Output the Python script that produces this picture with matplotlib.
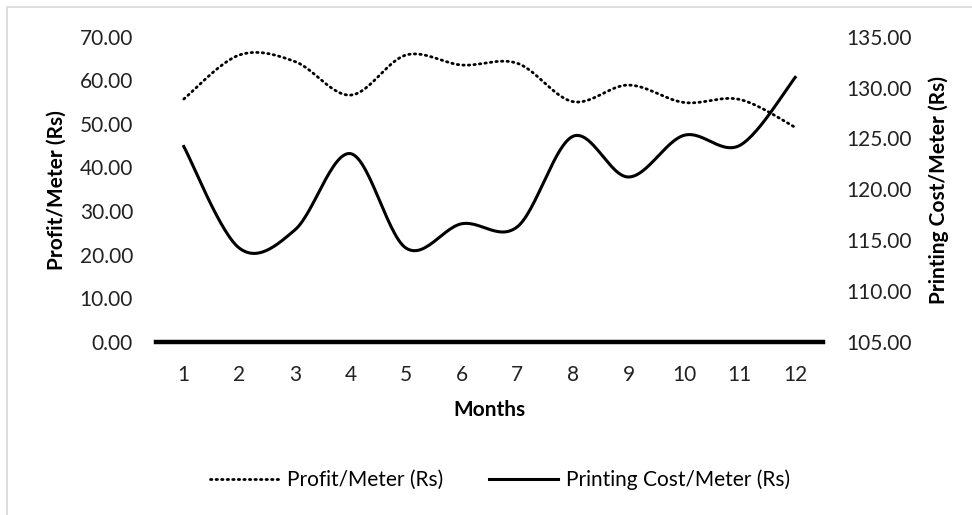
import numpy as np
import matplotlib.pyplot as plt
from matplotlib.patches import Rectangle

plt.rcParams['font.family'] = ['Lato', 'DejaVu Sans']

months = list(range(1, 13))
profit = [55.7, 65.8, 64.3, 56.6, 65.8, 63.5, 63.9, 55.1, 58.9, 54.9, 55.6, 49.2]
cost = [124.2, 114.2, 116.0, 123.5, 114.2, 116.6, 116.3, 125.2, 121.2, 125.3, 124.3, 131.0]


def smooth(x, y, n=30):
    # cubic bezier through every point, control points from neighbours (1/6 rule)
    x = np.asarray(x, float)
    y = np.asarray(y, float)
    px = np.concatenate([[x[0]], x, [x[-1]]])
    py = np.concatenate([[y[0]], y, [y[-1]]])
    xs, ys = [], []
    t = np.linspace(0, 1, n)
    for i in range(1, len(x)):
        p0 = np.array([px[i], py[i]])
        p3 = np.array([px[i + 1], py[i + 1]])
        c1 = p0 + (np.array([px[i + 1], py[i + 1]]) - np.array([px[i - 1], py[i - 1]])) / 6
        c2 = p3 - (np.array([px[i + 2], py[i + 2]]) - np.array([px[i], py[i]])) / 6
        b = ((1 - t) ** 3)[:, None] * p0 + (3 * (1 - t) ** 2 * t)[:, None] * c1 \
            + (3 * (1 - t) * t ** 2)[:, None] * c2 + (t ** 3)[:, None] * p3
        xs.extend(b[:, 0])
        ys.extend(b[:, 1])
    return np.array(xs), np.array(ys)


W, H = 972, 515
FS = 15
fig = plt.figure(figsize=(W / 100, H / 100), dpi=100)
ax = fig.add_axes([156 / W, 1 - 341.7 / H, 667 / W, 305 / H])
ax2 = ax.twinx()

sx, sy = smooth(months, profit)
lp, = ax.plot(sx, sy, color='black', lw=2.0, linestyle=(0, (0.5, 1.5)),
              dash_capstyle='round', label='Profit/Meter (Rs)')
cx, cy = smooth(months, cost)
lc, = ax2.plot(cx, cy, color='black', lw=2.2, label='Printing Cost/Meter (Rs)')

ax.set_xlim(0.5, 12.5)
ax.set_ylim(0, 70)
ax2.set_ylim(105, 135)
ax.set_yticks(np.arange(0, 71, 10))
ax2.set_yticks(np.arange(105, 136, 5))
ax.yaxis.set_major_formatter(lambda v, p: f'{v:.2f}')
ax2.yaxis.set_major_formatter(lambda v, p: f'{v:.2f}')
ax.set_xticks(months)

for a in (ax, ax2):
    for s in ('top', 'left', 'right', 'bottom'):
        a.spines[s].set_visible(False)
    a.tick_params(length=0, labelsize=FS, colors='#222222')
ax.tick_params(axis='y', pad=16.5)
ax2.tick_params(axis='y', pad=17)
ax.tick_params(axis='x', pad=17)
ax.axhline(0, color='black', lw=3.2, clip_on=False, zorder=5)

fig.text(57 / W, 1 - 190 / H, 'Profit/Meter (Rs)', rotation=90, ha='center', va='center',
         fontsize=FS, fontweight='bold')
fig.text(939 / W, 1 - 190 / H, 'Printing Cost/Meter (Rs)', rotation=90, ha='center', va='center',
         fontsize=FS, fontweight='bold')
fig.text(489.5 / W, 1 - 410 / H, 'Months', ha='center', va='center', fontsize=FS, fontweight='bold')

fig.legend(handles=[lp, lc], loc='center', bbox_to_anchor=(500 / W, 1 - 480 / H), ncol=2,
           frameon=False, fontsize=FS, handlelength=3.3, columnspacing=2.2, handletextpad=0.4)

fig.patches.append(Rectangle((7 / W, -0.1), 1.2, 1 - 7 / H + 0.1, transform=fig.transFigure,
                             fill=False, edgecolor='#d9d9d9', lw=1.2))

fig.savefig('out.png', dpi=100)
